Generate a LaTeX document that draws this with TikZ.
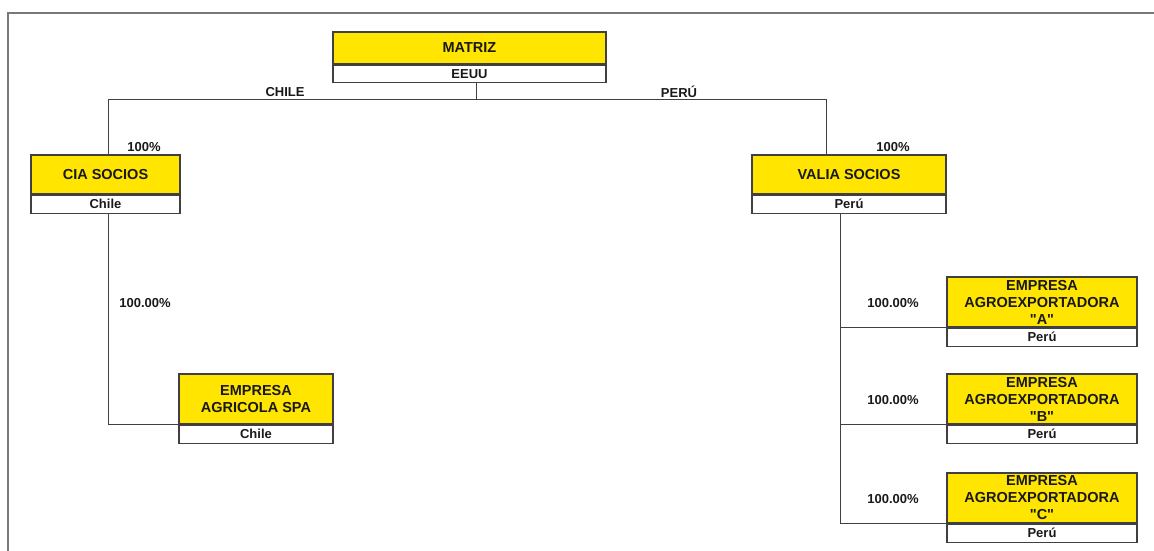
\documentclass[tikz,border=0pt]{standalone}
\usepackage{fontspec}
\setmainfont{Liberation Sans}
\definecolor{boxyellow}{RGB}{255, 229, 0}
\definecolor{edgegray}{RGB}{64, 64, 64}
\definecolor{framegray}{RGB}{120, 120, 120}
\definecolor{inkblack}{RGB}{25, 25, 25}
\usetikzlibrary{positioning}

\begin{document}
\begin{tikzpicture}[
  x=1pt, y=-1pt,
  titlebox/.style={draw=edgegray, line width=1.1pt, fill=boxyellow, inner sep=0pt, align=center, text=inkblack, font=\fontsize{14.5}{17}\selectfont\bfseries},
  countrybox/.style={draw=edgegray, line width=1.1pt, fill=white, inner sep=0pt, minimum height=18, text=inkblack, font=\fontsize{13}{15}\selectfont\bfseries},
  linklabel/.style={text=inkblack, inner sep=0pt, font=\fontsize{13}{15}\selectfont\bfseries},
  link/.style={draw=edgegray, line width=1pt}
]
  \useasboundingbox (0,0) rectangle (1154,551);
  \draw[framegray, line width=1.5pt] (8,551) -- (8,13) -- (1154,13);

  % top
  \node[titlebox, minimum width=273, minimum height=32] (matriz) at (469.5,48) {MATRIZ};
  \node[countrybox, minimum width=273, minimum height=17, below=0pt of matriz] (matrizc) {EEUU};

  % second level
  \node[titlebox, minimum width=149, minimum height=39] (cia) at (105.5,174.5) {CIA SOCIOS};
  \node[countrybox, minimum width=149, below=0pt of cia] (ciac) {Chile};
  \node[titlebox, minimum width=194, minimum height=39] (valia) at (849,174.5) {VALIA SOCIOS};
  \node[countrybox, minimum width=194, below=0pt of valia] (valiac) {Perú};

  % third level
  \node[titlebox, minimum width=154, minimum height=50] (agricola) at (256,399) {EMPRESA\\AGRICOLA SPA};
  \node[countrybox, minimum width=154, below=0pt of agricola] (agricolac) {Chile};
  \node[titlebox, minimum width=190, minimum height=50] (agroA) at (1042,302) {EMPRESA\\AGROEXPORTADORA\\\textquotedbl A\textquotedbl};
  \node[countrybox, minimum width=190, below=0pt of agroA] (agroAc) {Perú};
  \node[titlebox, minimum width=190, minimum height=50] (agroB) at (1042,399) {EMPRESA\\AGROEXPORTADORA\\\textquotedbl B\textquotedbl};
  \node[countrybox, minimum width=190, below=0pt of agroB] (agroBc) {Perú};
  \node[titlebox, minimum width=190, minimum height=50] (agroC) at (1042,498) {EMPRESA\\AGROEXPORTADORA\\\textquotedbl C\textquotedbl};
  \node[countrybox, minimum width=190, below=0pt of agroC] (agroCc) {Perú};

  \coordinate (hub) at (476,99);
  \coordinate (hubL) at (108,99);
  \coordinate (hubR) at (826,99);
  \coordinate (trunkR) at (840,213);

  \draw[link] (hub |- matrizc.south) -- (hub);
  \draw[link] (hubL |- cia.north) -- (hubL) -- (hubR) -- (hubR |- valia.north);
  \draw[link] (hubL |- ciac.south) |- (agricola.south west);
  \draw[link] (trunkR |- valiac.south) |- (agroC.south west);
  \draw[link] (trunkR |- agroA.south) -- (agroA.south west);
  \draw[link] (trunkR |- agroB.south) -- (agroB.south west);

  \node[linklabel] (lchile) at (285,92) {CHILE};
  \node[linklabel] (lperu) at (679,92) {PERÚ};
  \node[linklabel] (pcia) at (144,147) {100\%};
  \node[linklabel] (pvalia) at (893,147) {100\%};
  \node[linklabel] (pagricola) at (145,303) {100.00\%};
  \node[linklabel] (pagroA) at (893,303) {100.00\%};
  \node[linklabel] (pagroB) at (893,400) {100.00\%};
  \node[linklabel] (pagroC) at (893,499) {100.00\%};
\end{tikzpicture}
\end{document}
